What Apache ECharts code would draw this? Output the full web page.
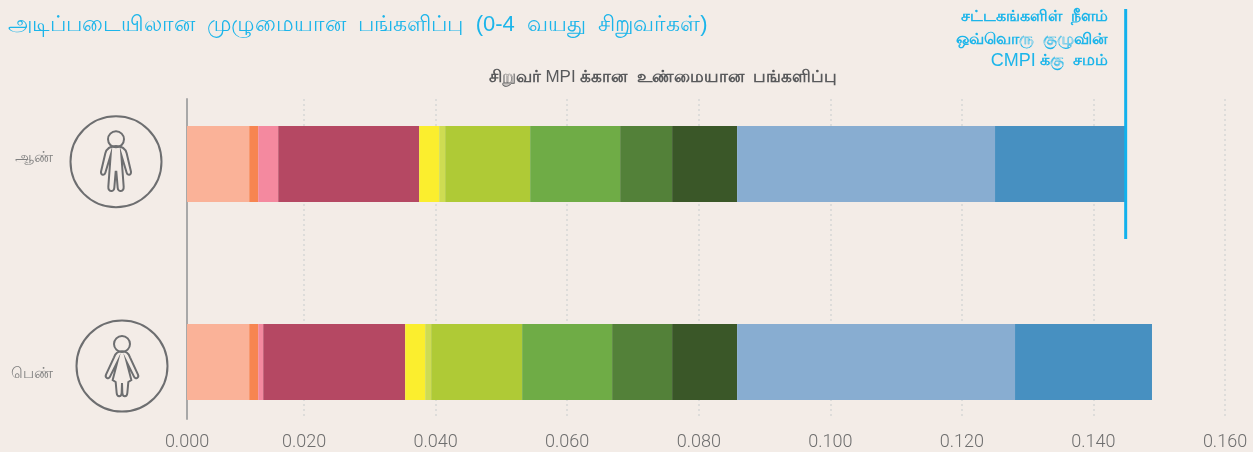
<!DOCTYPE html>
<html>
<head>
<meta charset="utf-8">
<title>CMPI</title>
<style>
    html, body { margin: 0; padding: 0; background: #f3ece7; }
    #chart { width: 1253px; height: 452px; }
</style>
<script src="https://cdn.jsdelivr.net/npm/echarts@6/dist/echarts.min.js"></script>
</head>
<body>
<div id="chart"></div>
<script>
    // chart data
    var genders = ['ஆண்', 'பெண்'];
    var boyValues = [0.01166, 0.00137, 0.00304, 0.02143, 0.00304, 0.00091, 0.01292, 0.01368, 0.00790, 0.00988, 0.03921, 0.01976];
    var girlValues = [0.01166, 0.00137, 0.00076, 0.02158, 0.00304, 0.00091, 0.01383, 0.01368, 0.00912, 0.00988, 0.04225, 0.02082];
    var segmentColors = ['#fab298', '#f78551', '#f4899f', '#b54863', '#fbee2e', '#cedc52', '#afca36', '#6fac46', '#538139', '#3a5728', '#88add1', '#4790c1'];
    // the 0.000 label sits on the axis line, which starts a little past zero on the reference scale
    var axisStart = 0.0022;
    var axisEnd = 0.16;
    var tickValues = [axisStart, 0.02, 0.04, 0.06, 0.08, 0.1, 0.12, 0.14, 0.16];
    var tickLabels = ['0.000', '0.020', '0.040', '0.060', '0.080', '0.100', '0.120', '0.140', '0.160'];
    var cmpiValue = 0.1449;

    var titleText = 'அடிப்படையிலான  முழுமையான  பங்களிப்பு  (0-4  வயது  சிறுவர்கள்)';
    // {latin|...} runs are lighter than the Tamil around them in the reference
    var subtitleText = 'சிறுவர் {latin|MPI} க்கான  உண்மையான  பங்களிப்பு';
    var noteLines = ['சட்டகங்களிள்  நீளம்', 'ஒவ்வொரு  குழுவின்', '{note|CMPI} க்கு  சமம்'];

    var boyPath = 'M78,78 C60,78 50,85 46,100 L33,155 C32,166 43,168 46,158 L62,105 L55,200 C54,216 72,218 73,203 L77,155 ' +
        'L79,155 L83,203 C84,218 102,216 101,200 L94,105 L110,158 C113,168 124,166 123,155 L110,100 C106,85 96,78 78,78 Z';
    var girlPath = 'M90,70 C78,70 70,76 66,88 L42,140 C38,150 50,155 54,146 L76,102 L62,156 L71,162 L74,195 C75,208 88,208 89,195 L90,165 ' +
        'L91,195 C92,208 105,208 106,195 L109,162 L118,156 L104,102 L126,146 C130,155 142,150 138,140 L114,88 C110,76 102,70 90,70 Z';

    var fontName = '"Liberation Sans", "Noto Sans", sans-serif';
    var blue = '#1cb5ea';
    var iconGrey = '#6d6e70';

    // the graphic component only knows registered shapes, so the figures go in as two shapes
    echarts.graphic.registerShape('boyFigure', echarts.graphic.extendPath(boyPath, {}));
    echarts.graphic.registerShape('girlFigure', echarts.graphic.extendPath(girlPath, {}));

    var chart = echarts.init(document.getElementById('chart'));

    // one stacked series per segment
    function buildSeries() {
        return segmentColors.map(function (color, i) {
            return {
                type: 'bar',
                stack: 'total',
                xAxisIndex: 0,
                yAxisIndex: 0,
                barWidth: 76,
                silent: true,
                itemStyle: { color: color },
                data: [boyValues[i], girlValues[i]]
            };
        });
    }

    function iconGraphic(cx, cy, offsetX, offsetY, shapeName, headX, headY) {
        var lineStyle = { fill: 'none', stroke: iconGrey, lineWidth: 2 };
        return [
            { type: 'circle', shape: { cx: cx, cy: cy, r: 45.5 }, style: lineStyle },
            { type: 'circle', shape: { cx: headX, cy: headY, r: 8 }, style: lineStyle },
            {
                type: shapeName,
                x: offsetX,
                y: offsetY,
                scaleX: 1 / 3,
                scaleY: 1 / 3,
                style: { fill: 'none', stroke: iconGrey, lineWidth: 6 }
            }
        ];
    }

    function textGraphic(text, x, y, align, size, color, weight) {
        return {
            type: 'text',
            x: x,
            y: y,
            style: {
                text: text,
                align: align,
                verticalAlign: 'middle',
                fontFamily: fontName,
                fontSize: size,
                fontWeight: weight || 'normal',
                fill: color,
                rich: {
                    latin: { fontFamily: fontName, fontSize: size, fontWeight: 'normal', fill: color },
                    note: { fontFamily: fontName, fontSize: 18, fontWeight: 'normal', fill: color }
                }
            }
        };
    }

    var option = {
        backgroundColor: '#f3ece7',
        animation: false,
        // first grid holds the bars, second one the axis and its guides
        grid: [
            { left: 187, width: 1038, top: 65, height: 396, outerBoundsMode: 'none' },
            { left: 187, width: 1038, top: 99, height: 320, outerBoundsMode: 'none' }
        ],
        xAxis: [
            { type: 'value', gridIndex: 0, min: axisStart, max: axisEnd, show: false },
            {
                type: 'value',
                gridIndex: 1,
                min: axisStart,
                max: axisEnd,
                axisLine: { show: false },
                axisTick: { show: false, customValues: tickValues },
                axisLabel: {
                    customValues: tickValues,
                    margin: 14,
                    fontFamily: 'Roboto, sans-serif',
                    fontWeight: 300,
                    fontSize: 18,
                    color: '#6e6e6e',
                    formatter: function (value) {
                        return tickLabels[tickValues.indexOf(value)];
                    }
                },
                splitLine: {
                    show: true,
                    lineStyle: { type: [2, 3], color: '#d6d6d6', width: 1.5 }
                }
            }
        ],
        yAxis: [
            { type: 'category', gridIndex: 0, inverse: true, data: genders, show: false },
            {
                type: 'value',
                gridIndex: 1,
                min: 0,
                max: 1,
                axisLine: { show: true, lineStyle: { color: '#a8a8a8', width: 2 } },
                axisTick: { show: false },
                axisLabel: { show: false },
                splitLine: { show: false }
            }
        ],
        series: buildSeries(),
        graphic: []
    };

    chart.setOption(option);

    // texts, icons and the CMPI line, placed once the scale exists
    var cmpiX = chart.convertToPixel({ xAxisIndex: 0 }, cmpiValue);
    var elements = [
        textGraphic(titleText, 8, 25, 'left', 22, blue),
        textGraphic(subtitleText, 663, 77, 'center', 17, '#58595b', 'bold'),
        textGraphic(noteLines[0], 1108, 17, 'right', 16, blue, 'bold'),
        textGraphic(noteLines[1], 1108, 40, 'right', 16, blue, 'bold'),
        textGraphic(noteLines[2], 1108, 61, 'right', 16, blue, 'bold'),
        textGraphic(genders[0], 53, 158, 'right', 15, '#808080'),
        textGraphic(genders[1], 53, 374, 'right', 15, '#808080'),
        {
            type: 'line',
            shape: { x1: cmpiX, y1: 9, x2: cmpiX, y2: 239 },
            style: { stroke: '#12b1ec', lineWidth: 3 },
            z: 10
        }
    ];
    elements = elements.concat(iconGraphic(116, 161.7, 90, 120, 'boyFigure', 116, 139.3));
    elements = elements.concat(iconGraphic(122, 366, 92, 328, 'girlFigure', 122, 344));

    chart.setOption({ graphic: elements });
</script>
</body>
</html>
